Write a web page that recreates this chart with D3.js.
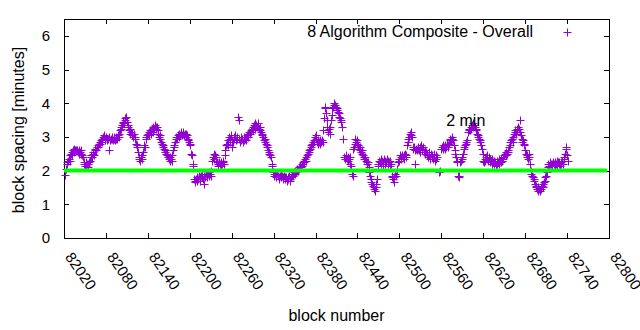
<!DOCTYPE html>
<html><head><meta charset="utf-8">
<script src="https://cdn.jsdelivr.net/npm/d3@7"></script>
<style>
html,body{margin:0;padding:0;background:#fff;}
svg{display:block;font-family:"Liberation Sans",Arial,sans-serif;}
</style></head>
<body><svg id="c" width="640" height="330"></svg>
<script>
const seriesName = "8 Algorithm Composite - Overall";
const refLabel = "2 min";
const startBlock = 82022;
const spacing = [
1.88,2.05,2.2,2.25,2.3,2.35,2.3,2.45,2.5,2.45,
2.55,2.6,2.65,2.55,2.6,2.62,2.58,2.6,2.55,2.6,
2.5,2.55,2.6,2.5,2.45,2.4,2.25,2.2,2.15,2.25,
2.15,2.2,2.1,2.2,2.25,2.3,2.4,2.45,2.4,2.5,
2.55,2.45,2.6,2.65,2.6,2.7,2.75,2.7,2.8,2.85,
2.8,2.9,2.95,2.85,3.0,3.05,2.95,2.9,3.0,2.95,
2.9,2.95,3.0,2.6,2.9,2.95,3.0,2.95,2.9,2.95,
3.0,2.9,2.95,3.0,2.95,3.05,3.0,3.1,3.2,3.3,
3.25,3.35,3.4,3.45,3.4,3.5,3.55,3.6,3.45,3.35,
3.3,3.2,3.25,3.1,3.15,3.05,3.1,3.0,3.1,2.95,
3.0,2.8,2.75,2.7,2.55,2.4,2.35,2.3,2.4,2.35,
2.45,2.55,2.7,2.75,2.7,2.95,3.0,3.05,3.1,3.05,
3.15,3.2,3.1,3.2,3.25,3.15,3.3,3.25,3.35,3.3,
3.25,3.3,3.2,3.1,3.0,3.05,2.95,2.85,2.8,2.75,
2.7,2.65,2.6,2.55,2.5,2.45,2.5,2.4,2.35,2.4,
2.3,2.35,2.3,2.45,2.6,2.75,2.7,2.85,2.95,3.0,
2.95,3.05,3.0,3.1,3.05,3.1,3.15,3.05,3.1,3.15,
3.05,3.1,3.0,3.1,3.05,2.9,2.95,2.85,2.8,2.75,
2.5,2.45,2.15,2.2,1.75,1.7,1.65,1.75,1.7,1.8,
1.75,1.85,1.8,1.7,1.85,1.9,1.8,1.75,1.85,1.6,
1.8,1.9,1.85,1.8,1.9,1.85,1.95,1.9,1.85,2.0,
2.3,2.4,2.5,2.35,2.45,2.3,2.4,2.25,2.2,2.15,
2.25,2.2,2.15,2.25,2.2,2.3,2.25,2.2,2.45,2.6,
2.75,2.8,2.9,2.75,3.0,2.85,2.95,3.05,2.9,2.7,
2.85,3.0,2.95,3.05,2.9,3.0,2.95,3.6,3.5,2.95,
2.85,2.9,3.0,2.95,2.85,2.9,3.0,2.95,2.9,3.0,
3.05,3.1,3.0,3.15,3.1,3.2,3.15,3.25,3.2,3.3,
3.35,3.25,3.4,3.35,3.3,3.4,3.3,3.25,3.3,3.2,
3.15,3.1,3.05,3.0,2.9,2.95,2.85,2.8,2.75,2.7,
2.6,2.55,2.5,2.45,2.4,2.2,2.15,1.95,1.9,1.85,
1.9,1.8,1.85,1.9,1.85,1.8,1.75,1.85,1.8,1.9,
1.85,1.8,1.75,1.85,1.8,1.75,1.8,1.7,1.8,1.75,
1.85,1.7,1.75,1.8,1.85,1.9,1.85,1.95,1.9,2.0,
1.95,2.0,2.05,2.0,2.1,2.05,2.15,2.1,2.2,2.15,
2.25,2.3,2.25,2.35,2.3,2.4,2.45,2.5,2.55,2.6,
2.65,2.7,2.75,2.8,2.85,2.8,2.9,3.0,3.05,2.95,
2.85,2.9,2.8,2.85,2.9,2.8,2.85,2.9,2.85,3.2,
3.55,3.85,3.9,3.7,3.5,3.3,3.15,3.25,3.1,3.3,
3.5,3.65,3.85,3.9,3.95,4.0,3.95,3.9,3.85,3.8,
3.75,3.7,3.6,3.55,3.5,3.45,3.3,2.95,null,2.4,
2.35,2.4,2.45,2.35,2.4,2.3,2.35,2.4,2.2,2.15,
1.9,1.85,2.65,2.7,2.8,2.95,2.85,2.9,2.8,2.75,
2.65,2.7,2.6,2.55,2.6,2.5,2.45,2.4,2.35,2.4,
2.3,2.25,2.2,2.25,2.1,1.95,1.85,1.75,1.65,1.6,
1.55,1.5,1.45,1.4,1.5,1.6,1.75,2.15,2.2,2.3,
2.25,2.35,2.2,2.3,2.25,2.15,2.35,2.3,2.2,2.25,
2.35,2.3,2.2,2.25,2.3,2.15,2.2,1.85,1.8,1.75,
1.65,1.8,1.9,1.85,2.0,2.05,2.25,2.3,2.35,2.45,
2.4,2.35,2.45,2.4,2.35,2.45,2.5,2.4,2.45,2.75,
2.85,2.95,3.0,3.1,3.15,3.05,3.0,2.7,2.65,2.7,
2.6,2.2,2.65,2.6,2.7,2.65,2.6,2.55,2.7,2.75,
2.65,2.6,2.7,2.55,2.6,2.5,2.55,2.45,2.5,2.4,
2.55,2.45,2.35,2.5,2.4,2.45,2.35,2.5,2.4,2.3,
2.45,2.35,2.4,null,null,1.95,2.0,null,2.65,2.7,
2.65,2.75,2.7,2.65,2.75,2.7,2.8,2.75,2.7,2.8,
2.9,2.95,2.9,3.0,2.95,2.9,2.75,2.6,2.5,2.4,
2.3,2.25,1.85,1.8,1.85,2.25,2.3,2.4,2.35,2.5,
2.65,2.7,2.75,2.8,2.85,2.9,3.15,3.2,3.25,3.2,
3.3,3.25,3.35,3.3,3.4,3.35,3.3,3.25,3.2,3.1,
3.05,3.0,2.95,2.9,2.85,2.75,2.65,2.5,2.3,2.25,
2.35,2.3,2.4,2.45,2.35,2.3,2.4,2.25,2.35,2.3,
2.2,2.35,2.25,2.3,2.2,2.25,2.15,2.3,2.2,2.25,
2.35,2.2,2.3,2.25,2.35,2.3,2.4,2.35,2.45,2.5,
2.45,2.55,2.5,2.6,2.55,2.7,2.75,2.85,2.9,2.95,
2.85,3.0,3.1,3.15,3.2,3.1,3.25,3.2,3.3,3.25,
3.5,3.15,3.05,2.95,2.85,2.9,2.8,2.75,2.6,2.5,
2.45,2.4,2.35,2.5,2.4,2.2,2.0,1.9,1.85,1.8,
1.75,1.7,1.6,1.55,1.5,1.45,1.5,1.4,1.45,1.4,
1.5,1.45,1.55,1.5,1.6,1.65,1.7,1.8,1.85,1.95,
2.1,2.2,2.15,2.2,2.25,2.2,2.15,2.2,2.25,2.2,
2.15,2.25,2.2,2.3,2.15,2.25,2.2,2.25,2.15,2.2,
2.25,2.3,2.2,2.35,2.4,2.5,2.65,2.7,2.45,2.3
];
const refBlocks = [82020, 82797];
const refValue = 2;
const labelPos = [82567, 3.32];
const xTickValues = [82020,82080,82140,82200,82260,82320,82380,82440,82500,82560,82620,82680,82740,82800];
const yTickValues = [0,1,2,3,4,5,6];
const xDomain = [82020, 82800];
const yDomain = [0, 6.5];

const L = 64, R = 609, T = 19, B = 238;
const svg = d3.select("#c");
const x = d3.scaleLinear().domain(xDomain).range([L, R]);
const y = d3.scaleLinear().domain(yDomain).range([B, T]);
const purple = "#9400d3";
const cross = "M-4,0H4M0,-4V4";

// axes
const gx = svg.append("g").attr("transform", `translate(0,${B})`)
  .call(d3.axisBottom(x).tickValues(xTickValues).tickSize(-5).tickFormat(d3.format("d")));
gx.selectAll("text").attr("y", null).attr("dy", null)
  .attr("transform", "translate(0,19) rotate(55)")
  .attr("text-anchor", "start");
svg.append("g").attr("transform", `translate(0,${T})`)
  .call(d3.axisTop(x).tickValues(xTickValues).tickSize(-5).tickFormat(""));
svg.append("g").attr("transform", `translate(${L},0)`)
  .call(d3.axisLeft(y).tickValues(yTickValues).tickSize(-5).tickPadding(14).tickFormat(d3.format("d")));
svg.append("g").attr("transform", `translate(${R},0)`)
  .call(d3.axisRight(y).tickValues(yTickValues).tickSize(-5).tickFormat(""));
svg.selectAll(".domain").remove();
svg.selectAll(".tick line").attr("stroke", "#000").attr("shape-rendering", "crispEdges");
svg.selectAll(".tick text").attr("font-size", 15).attr("fill", "#000")
  .attr("font-family", '"Liberation Sans",Arial,sans-serif');

svg.append("rect").attr("x", L).attr("y", T).attr("width", R - L).attr("height", B - T)
  .attr("fill", "none").attr("stroke", "#000").attr("stroke-width", 1)
  .attr("shape-rendering", "crispEdges");

// points
const pts = spacing.map((v, i) => ({ b: startBlock + i, v })).filter(d => d.v != null);
svg.append("g").selectAll("path").data(pts).join("path")
  .attr("transform", d => `translate(${Math.round(x(d.b)) + 0.5},${Math.round(y(d.v)) + 0.5})`)
  .attr("d", cross)
  .attr("stroke", purple).attr("stroke-width", 1).attr("fill", "none");

// reference line
svg.append("line")
  .attr("x1", x(refBlocks[0])).attr("x2", x(refBlocks[1]))
  .attr("y1", y(refValue)).attr("y2", y(refValue))
  .attr("stroke", "#00ff00").attr("stroke-width", 4);

svg.append("text").attr("x", x(labelPos[0])).attr("y", y(labelPos[1]))
  .attr("font-size", 16).text(refLabel);

// legend
svg.append("text").attr("x", 533).attr("y", 37).attr("text-anchor", "end")
  .attr("font-size", 16).text(seriesName);
svg.append("path").attr("transform", "translate(567.5,32.5)")
  .attr("d", cross).attr("stroke", purple).attr("fill", "none");

// axis titles
svg.append("text").attr("transform", "translate(24,130) rotate(-90)")
  .attr("text-anchor", "middle").attr("font-size", 16).text("block spacing [minutes]");
svg.append("text").attr("x", (L + R) / 2).attr("y", 321)
  .attr("text-anchor", "middle").attr("font-size", 16).text("block number");
</script></body></html>
